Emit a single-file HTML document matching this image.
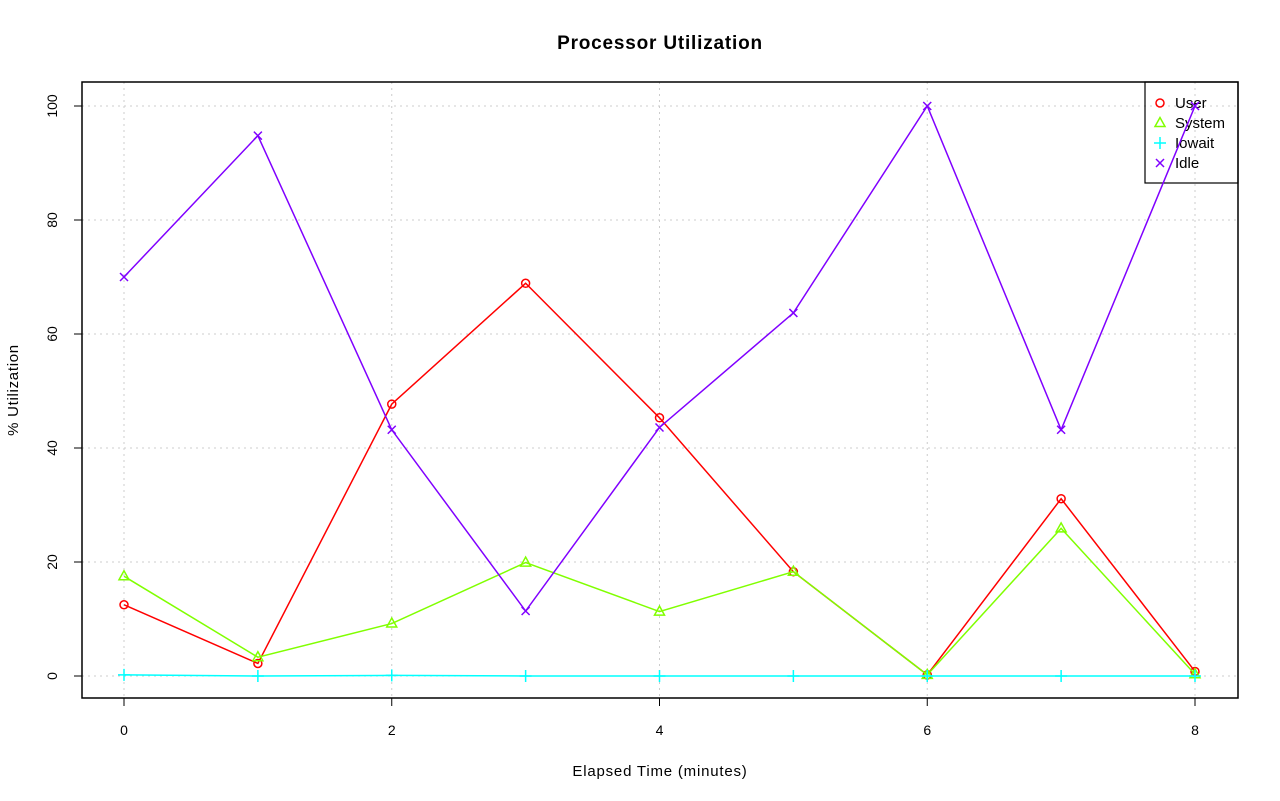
<!DOCTYPE html>
<html><head><meta charset="utf-8"><style>
body{margin:0;background:#fff}
svg{display:block;font-family:"Liberation Sans",Arial,sans-serif}
</style></head><body>
<svg id="chart" width="1280" height="801" xmlns="http://www.w3.org/2000/svg">
<text x="660" y="49" text-anchor="middle" font-family="Liberation Sans, sans-serif" font-size="19" font-weight="bold" letter-spacing="0.8">Processor Utilization</text>
<text x="660" y="776" text-anchor="middle" font-family="Liberation Sans, sans-serif" font-size="15" letter-spacing="0.8">Elapsed Time (minutes)</text>
<text transform="translate(18,390) rotate(-90)" text-anchor="middle" font-family="Liberation Sans, sans-serif" font-size="15" letter-spacing="0.7">% Utilization</text>
<g id="grid"></g><g id="axes"></g>
<g id="legend"></g>
<g id="series"></g>
<rect x="82" y="82" width="1156" height="616" fill="none" stroke="#000" stroke-width="1.5"/>
</svg>
<script>
const times=[0,1,2,3,4,5,6,7,8];
const userVals=[12.5,2.2,47.7,68.9,45.3,18.3,0.2,31.1,0.8];
const systemVals=[17.5,3.3,9.2,19.9,11.3,18.3,0.2,25.9,0.3];
const iowaitVals=[0.2,0,0.1,0,0,0,0,0,0];
const idleVals=[70,94.8,43.2,11.4,43.6,63.7,100,43.2,100];
const xTicks=[0,2,4,6,8];
const yTicks=[0,20,40,60,80,100];
const seriesNames=["User","System","Iowait","Idle"];
const NS="http://www.w3.org/2000/svg";
const sx=v=>124+v*(1195-124)/8;
const sy=v=>676-v*5.7;
function mk(tag,attrs,parent){const e=document.createElementNS(NS,tag);for(const k in attrs)e.setAttribute(k,attrs[k]);parent.appendChild(e);return e;}
const grid=document.getElementById('grid'),axes=document.getElementById('axes'),ser=document.getElementById('series'),leg=document.getElementById('legend');
xTicks.forEach(t=>{
 const g=mk('line',{x1:sx(t),x2:sx(t),y1:82,y2:698,stroke:'#ccc','stroke-dasharray':'2,4'},grid);
 
 
 const tk=mk('line',{x1:sx(t),x2:sx(t),y1:698,y2:706,stroke:'#000'},axes);
 
 
 const tx=mk('text',{x:sx(t),y:735,'text-anchor':'middle','font-size':'14'},axes);tx.textContent=t;
 
 
});
yTicks.forEach(t=>{
 const g=mk('line',{x1:82,x2:1238,y1:sy(t),y2:sy(t),stroke:'#ccc','stroke-dasharray':'2,4'},grid);
 
 
 const tk=mk('line',{x1:74,x2:82,y1:sy(t),y2:sy(t),stroke:'#000'},axes);
 
 
 const tx=mk('text',{transform:`translate(57,${sy(t)}) rotate(-90)`,'text-anchor':'middle','font-size':'14'},axes);tx.textContent=t;
 
 
});
function marker(kind,x,y,c,p){
 if(kind==='o')return mk('circle',{cx:x,cy:y,r:4,fill:'none',stroke:c,'stroke-width':1.5},p);
 if(kind==='t')return mk('polygon',{points:`${x},${y-5.5} ${x-5},${y+3.5} ${x+5},${y+3.5}`,fill:'none',stroke:c,'stroke-width':1.5},p);
 if(kind==='+')return mk('path',{d:`M${x-6},${y}H${x+6}M${x},${y-6}V${y+6}`,stroke:c,'stroke-width':1.5},p);
 return mk('path',{d:`M${x-4},${y-4}L${x+4},${y+4}M${x-4},${y+4}L${x+4},${y-4}`,stroke:c,'stroke-width':1.5},p);
}
const all=[userVals,systemVals,iowaitVals,idleVals],cols=['#ff0000','#80ff00','#00ffff','#8000ff'],kinds=['o','t','+','x'],names=['series-user','series-system','series-iowait','series-idle'];
all.forEach((vals,i)=>{
 const g=mk('g',{},ser);
 
 
 const pl=mk('polyline',{points:vals.map((v,j)=>sx(times[j])+','+sy(v)).join(' '),fill:'none',stroke:cols[i],'stroke-width':1.5},g);
 
 
 vals.forEach((v,j)=>{const m=marker(kinds[i],sx(times[j]),sy(v),cols[i],g);
  
  });
});
const lb=mk('rect',{x:1145,y:82,width:93,height:101,fill:'none',stroke:'#000','stroke-width':1.2},leg);


seriesNames.forEach((n,i)=>{
 const y=103+i*20;
 const g=mk('g',{},leg);
 
 
 marker(kinds[i],1160,y,cols[i],g);
 const t=mk('text',{x:1175,y:y+5,'font-size':'15'},g);t.textContent=n;
});
</script>
</body></html>
